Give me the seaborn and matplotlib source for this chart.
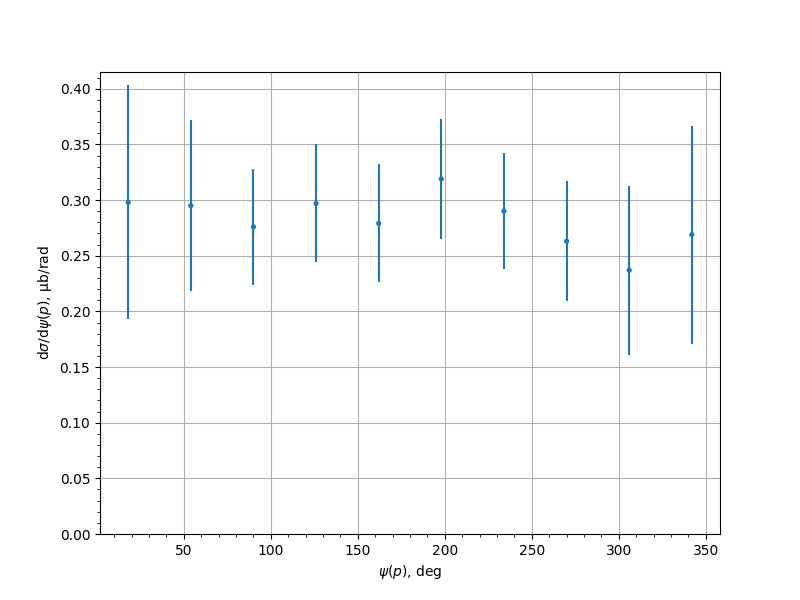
import matplotlib
matplotlib.use("Agg")
import matplotlib.pyplot as plt
import seaborn as sns
import pandas as pd
import numpy as np

psi = [18, 54, 90, 126, 162, 198, 234, 270, 306, 342]
dsig = [0.298, 0.295, 0.276, 0.297, 0.279, 0.319, 0.290, 0.263, 0.237, 0.269]
err = [0.105, 0.077, 0.052, 0.053, 0.053, 0.054, 0.052, 0.054, 0.076, 0.098]

df = pd.DataFrame({"psi": psi, "dsig": dsig, "err": err})

sns.set_style("ticks")
plt.rcParams.update(matplotlib.rcParamsDefault)
fig, ax = plt.subplots(figsize=(8, 6), dpi=100)
sns.scatterplot(data=df, x="psi", y="dsig", ax=ax, color="#1f77b4", s=14,
                edgecolor="none", zorder=3)
ax.errorbar(df["psi"], df["dsig"], yerr=df["err"], fmt="none",
            ecolor="#1f77b4", elinewidth=1.5, zorder=2)
ax.set_ylim(bottom=0)
ax.minorticks_on()
ax.grid(True, which="major")
ax.set_xlabel(r"$\psi(p)$, deg")
ax.set_ylabel(r"d$\sigma$/d$\psi(p)$, μb/rad")
fig.savefig("out.png", dpi=100)
